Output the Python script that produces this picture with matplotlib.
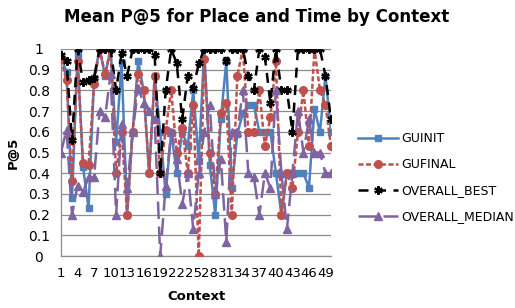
import matplotlib
matplotlib.use('Agg')
import matplotlib.pyplot as plt
import numpy as np

# contexts 1..50
contexts = list(range(1, 51))

guinit = [0.96, 0.89, 0.28, 0.97, 0.43, 0.23, 0.86, 1.00, 0.87, 1.00,
          0.55, 0.93, 0.20, 0.60, 0.94, 0.80, 0.40, 0.87, 0.60, 0.30,
          0.60, 0.40, 0.60, 0.53, 0.80, 0.46, 1.00, 0.44, 0.20, 0.66,
          0.94, 0.33, 0.59, 0.69, 0.73, 0.73, 0.60, 0.60, 0.60, 0.40,
          0.20, 0.40, 0.40, 0.40, 0.40, 0.33, 0.71, 0.60, 0.87, 0.60]

gufinal = [0.95, 0.85, 0.36, 0.94, 0.45, 0.44, 0.83, 1.00, 0.88, 1.00,
           0.40, 0.60, 0.20, 0.60, 0.88, 0.80, 0.40, 0.87, 0.40, 0.61,
           0.80, 0.50, 0.62, 0.40, 0.73, 0.00, 0.95, 0.50, 0.30, 0.69,
           0.74, 0.20, 0.87, 1.00, 0.60, 0.60, 0.80, 0.53, 0.67, 0.94,
           0.20, 0.40, 0.33, 0.60, 0.80, 0.53, 1.00, 0.80, 0.73, 0.53]

overall_best = [0.97, 0.94, 0.56, 1.00, 0.84, 0.85, 0.86, 1.00, 1.00, 1.00,
                0.80, 0.98, 0.87, 1.00, 1.00, 1.00, 1.00, 0.97, 0.40, 0.80,
                1.00, 0.93, 0.66, 0.87, 0.81, 0.93, 1.00, 1.00, 1.00, 1.00,
                0.94, 1.00, 1.00, 1.00, 0.87, 0.80, 1.00, 0.96, 0.74, 1.00,
                0.80, 0.80, 0.60, 1.00, 1.00, 1.00, 1.00, 1.00, 0.87, 0.66]

overall_median = [0.50, 0.61, 0.20, 0.34, 0.31, 0.38, 0.38, 0.70, 0.67, 0.88,
                  0.20, 0.64, 0.33, 0.60, 0.81, 0.74, 0.70, 0.66, 0.00, 0.34,
                  0.60, 0.47, 0.25, 0.40, 0.13, 0.40, 0.60, 0.73, 0.30, 0.47,
                  0.07, 0.60, 0.60, 0.80, 0.40, 0.38, 0.20, 0.40, 0.33, 0.80,
                  0.40, 0.13, 0.40, 0.70, 0.50, 0.66, 0.50, 0.50, 0.40, 0.40]

xtick_pos = list(range(1, 51, 3))
ytick_pos = [0, 0.1, 0.2, 0.3, 0.4, 0.5, 0.6, 0.7, 0.8, 0.9, 1]
ytick_labels = ['0', '0.1', '0.2', '0.3', '0.4', '0.5', '0.6', '0.7', '0.8', '0.9', '1']


def main():
    plt.rcParams['font.family'] = ['DejaVu Sans']
    fig = plt.figure(figsize=(5.15, 3.08), dpi=100)
    ax = fig.add_axes([61 / 515, 52 / 308, 270 / 515, 207 / 308])

    ax.plot(contexts, guinit, color='#4F81BD', lw=1.8, marker='s', ms=5,
            label='GUINIT', zorder=3)
    ax.plot(contexts, gufinal, color='#C0504D', lw=1.8, ls=(0, (2, 1)),
            marker='o', ms=5.5, label='GUFINAL', zorder=4)
    ax.plot(contexts, overall_best, color='black', lw=1.8, ls=(0, (4, 3)),
            marker=(6, 2, 0), ms=6, mew=1.6, label='OVERALL_BEST', zorder=5)
    ax.plot(contexts, overall_median, color='#8064A2', lw=1.8, ls=(0, (7, 3)),
            marker='^', ms=5.5, label='OVERALL_MEDIAN', zorder=6)

    ax.set_xlim(1, 50)
    ax.set_ylim(0, 1)
    ax.set_xticks(xtick_pos)
    ax.set_xticklabels([str(v) for v in xtick_pos], fontsize=9.5)
    ax.set_yticks(ytick_pos)
    ax.set_yticklabels(ytick_labels, fontsize=10, ha='center')
    ax.tick_params(axis='y', length=0, pad=16)
    ax.tick_params(axis='x', length=0, pad=8)
    ax.yaxis.grid(True, color='#8c8c8c', lw=0.9)
    ax.set_axisbelow(True)
    for s in ['top', 'right']:
        ax.spines[s].set_visible(False)
    for s in ['left', 'bottom']:
        ax.spines[s].set_color('#8c8c8c')
        ax.spines[s].set_linewidth(0.9)

    ax.set_ylabel('P@5', fontsize=9.5, fontweight='bold', labelpad=6)
    ax.set_xlabel('Context', fontsize=9.5, fontweight='bold', labelpad=7)
    fig.suptitle('Mean P@5 for Place and Time by Context', fontsize=12,
                 fontweight='bold', x=257 / 515, y=1 - 8 / 308, va='top')

    ax.legend(loc='upper left', bbox_to_anchor=(358 / 515, 1 - 132 / 308),
              bbox_transform=fig.transFigure, frameon=False, fontsize=9,
              handlelength=3.2, handletextpad=0.3, labelspacing=1.05,
              borderpad=0, borderaxespad=0)

    plt.savefig('out.png', dpi=100)


if __name__ == "__main__":
    main()
